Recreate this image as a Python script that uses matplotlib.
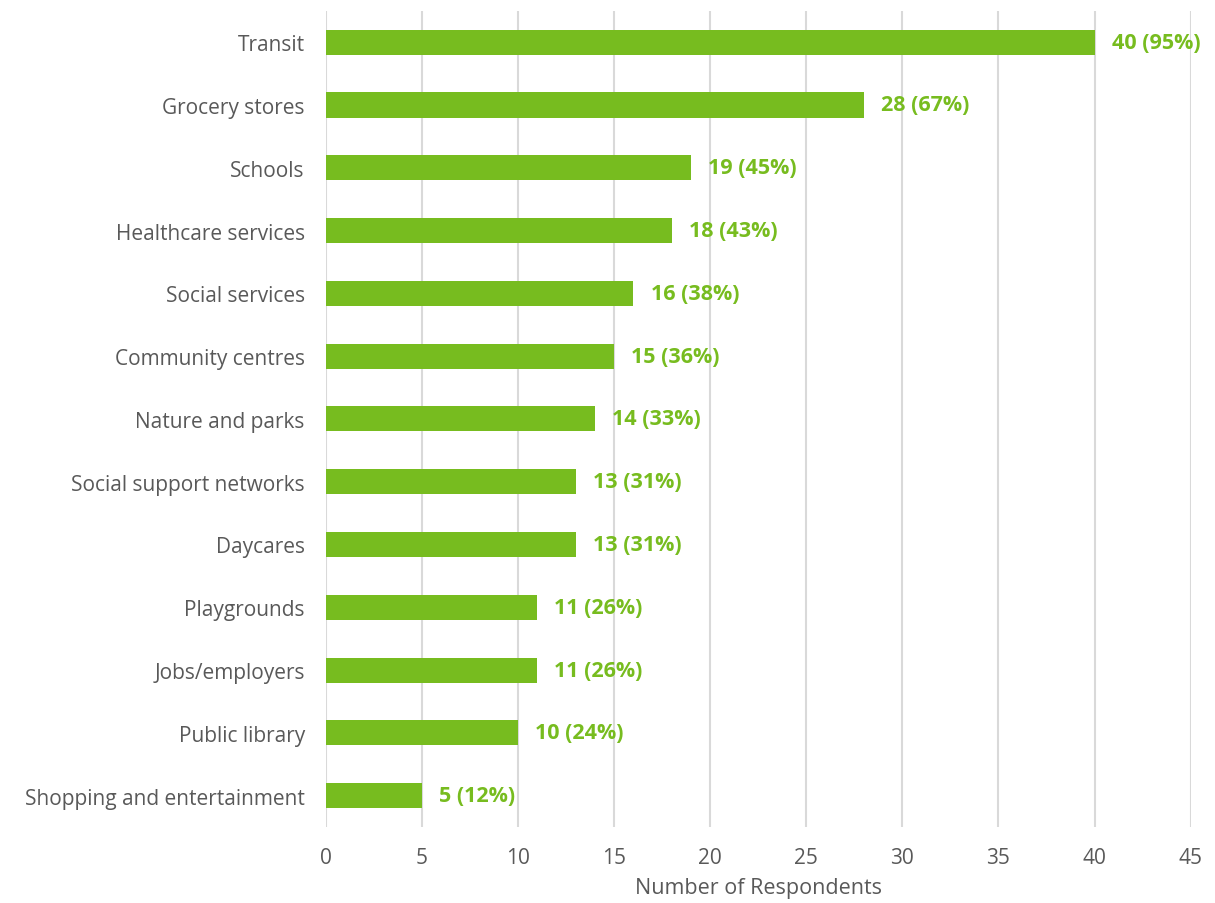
import matplotlib
matplotlib.use("Agg")
import matplotlib.pyplot as plt

categories = ["Transit", "Grocery stores", "Schools", "Healthcare services", "Social services",
              "Community centres", "Nature and parks", "Social support networks", "Daycares",
              "Playgrounds", "Jobs/employers", "Public library", "Shopping and entertainment"]
counts = [40, 28, 19, 18, 16, 15, 14, 13, 13, 11, 11, 10, 5]
percents = [95, 67, 45, 43, 38, 36, 33, 31, 31, 26, 26, 24, 12]
xticks = [0, 5, 10, 15, 20, 25, 30, 35, 40, 45]

green = "#77BC1F"
grey = "#595959"
plt.rcParams['font.family'] = ['Open Sans', 'DejaVu Sans']

fig = plt.figure(figsize=(12.15, 9.04), dpi=100)
ax = fig.add_axes([0.268, 0.084, 0.712, 0.903])
y = list(range(len(categories)))
ax.barh(y, counts, height=0.4, color=green, zorder=3)
for yi, c, p in zip(y, counts, percents):
    ax.text(c + 0.9, yi, f"{c} ({p}%)", va="center", ha="left", color=green,
            fontsize=15.5, fontweight="bold", zorder=4)
ax.set_ylim(len(categories) - 0.5, -0.5)
ax.set_xlim(0, 45)
ax.set_yticks(y)
ax.set_yticklabels(categories, fontsize=15, color=grey)
ax.set_xticks(xticks)
ax.set_xticklabels([str(t) for t in xticks], fontsize=15, color=grey)
ax.xaxis.grid(True, color="#D9D9D9", linewidth=1.5, zorder=0)
ax.tick_params(axis="y", length=0, pad=15)
ax.tick_params(axis="x", length=0, pad=14)
for s in ax.spines.values():
    s.set_visible(False)
ax.set_xlabel("Number of Respondents", fontsize=15.5, color=grey, labelpad=7)
fig.savefig("out.png", dpi=100)
